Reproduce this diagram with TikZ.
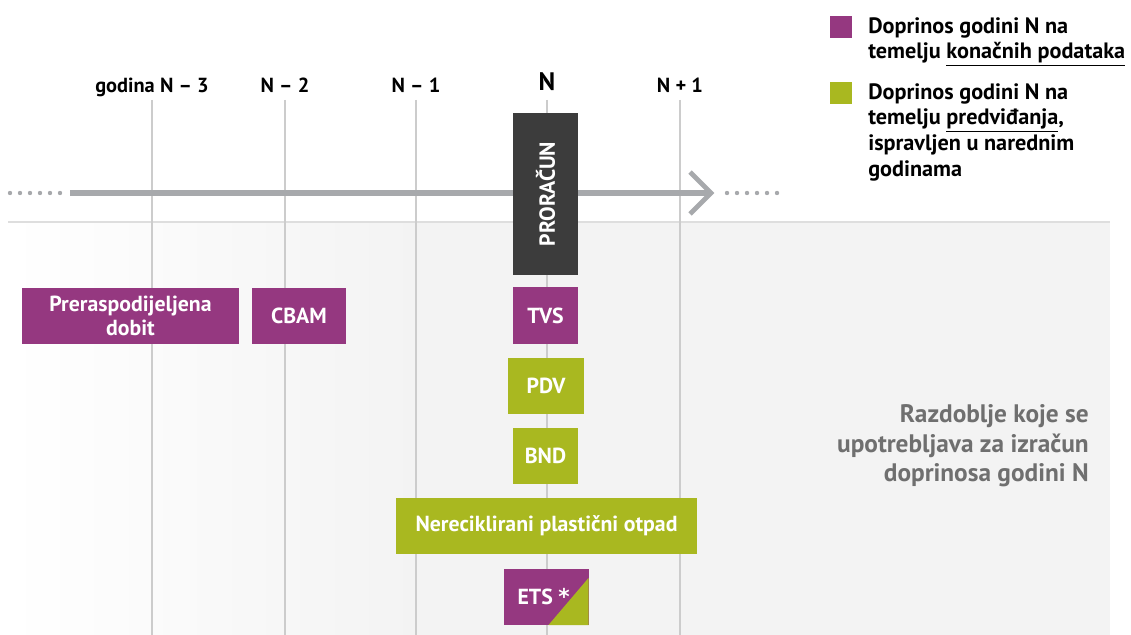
\documentclass[tikz,border=0pt]{standalone}
\usepackage{fontspec}
\setmainfont{PT Sans}
\newfontfamily\zvjezda{DejaVu Sans}
\definecolor{ljub}{HTML}{953880}
\definecolor{masl}{HTML}{A9B820}
\definecolor{tamna}{HTML}{3C3C3C}
\definecolor{strel}{HTML}{A7A9AC}
\definecolor{mreza}{HTML}{CCCCCC}
\definecolor{podl}{HTML}{F3F3F3}
\definecolor{sivtxt}{HTML}{6F6F6F}
\begin{document}
\begin{tikzpicture}[x=0.025cm, y=-0.025cm,
        txt/.style={font=\fontsize{15.8}{18.4}\selectfont\bfseries},
        kutija/.style={font=\fontsize{15.5}{17.5}\selectfont\bfseries, text=white, inner sep=0pt, align=center, minimum height=1.4cm},
        konac/.style={kutija, fill=ljub},
        pred/.style={kutija, fill=masl},
        godlab/.style={font=\fontsize{14.5}{18}\selectfont\bfseries, anchor=base}]
        \useasboundingbox (0,0) rectangle (1131,635);
        % podloga
        \fill[podl] (8,222) rectangle (1110,635);
        \shade[left color=white, right color=podl] (8,222) rectangle (420,635);
        \draw[line width=1.5pt, white!87!black] (8,222) -- (1110,222);
        % godine
        \foreach \x in {152,285,416,547,680}
            \draw[line width=0.9pt, mreza] (\x,100) -- (\x,635);
        \node[godlab] (g3) at (152,93) {godina N – 3};
        \node[godlab] (g2) at (285,93) {N – 2};
        \node[godlab] (g1) at (416,93) {N – 1};
        \node[godlab, font=\fontsize{18}{20}\selectfont\bfseries] (g0) at (547,91) {N};
        \node[godlab] (gp) at (680,93) {N + 1};
        % vremenska os
        \coordinate (os1) at (70,193);
        \coordinate (os2) at (711,193);
        \draw[line width=4pt, strel] (os1) -- (os2);
        \draw[line width=3.5pt, strel, line join=miter] (690,172) -- (os2) -- (690,214);
        \foreach \x in {10,20,...,60}
            \fill[strel] (\x,193) circle (2.2);
        \foreach \x in {727,737,...,777}
            \fill[strel] (\x,193) circle (2.2);
        % stavke
        \node[kutija, fill=tamna, minimum width=1.625cm, minimum height=4.05cm] (pror) at (545.5,194) {};
        \node[kutija, minimum height=0pt, rotate=90] (prortxt) at (pror.center) {PRORAČUN};
        \node[konac, minimum width=5.425cm] (dobit) at (130.5,316) {Preraspodijeljena\\dobit};
        \node[konac, minimum width=2.35cm] (cbam) at (299,316) {CBAM};
        \node[konac, minimum width=1.625cm] (tvs) at (545.5,315.5) {TVS};
        \node[pred, minimum width=1.9cm] (pdv) at (546,386) {PDV};
        \node[pred, minimum width=1.625cm] (bnd) at (545.5,456) {BND};
        \node[pred, minimum width=7.525cm] (otpad) at (546.5,526) {Nereciklirani plastični otpad};
        \node[konac, minimum width=2.1cm, path picture={
            \fill[masl] ([yshift=-0.225cm]path picture bounding box.north east)
                -- (path picture bounding box.south east)
                -- ([xshift=-1cm]path picture bounding box.south east) -- cycle;}]
            (ets) at (546.5,597) {ETS {\zvjezda\bfseries *}\hspace{4pt}};
        % legenda
        \fill[ljub] (830,16) rectangle (852,38);
        \fill[masl] (830,82) rectangle (852,104);
        \node[txt, anchor=north west, align=left, inner sep=0pt] (leg1) at (868,17)
            {Doprinos godini N na\\temelju \underline{konačnih podataka}};
        \node[txt, anchor=north west, align=left, inner sep=0pt] (leg2) at (868,83)
            {Doprinos godini N na\\temelju \underline{predviđanja},\\ispravljen u narednim\\godinama};
        % razdoblje
        \node[font=\fontsize{18}{21}\selectfont\bfseries, text=sivtxt, anchor=east, align=right, inner sep=0pt] (razd) at (1089,446)
            {Razdoblje koje se\\upotrebljava za izračun\\doprinosa godini N};
\end{tikzpicture}
\end{document}
